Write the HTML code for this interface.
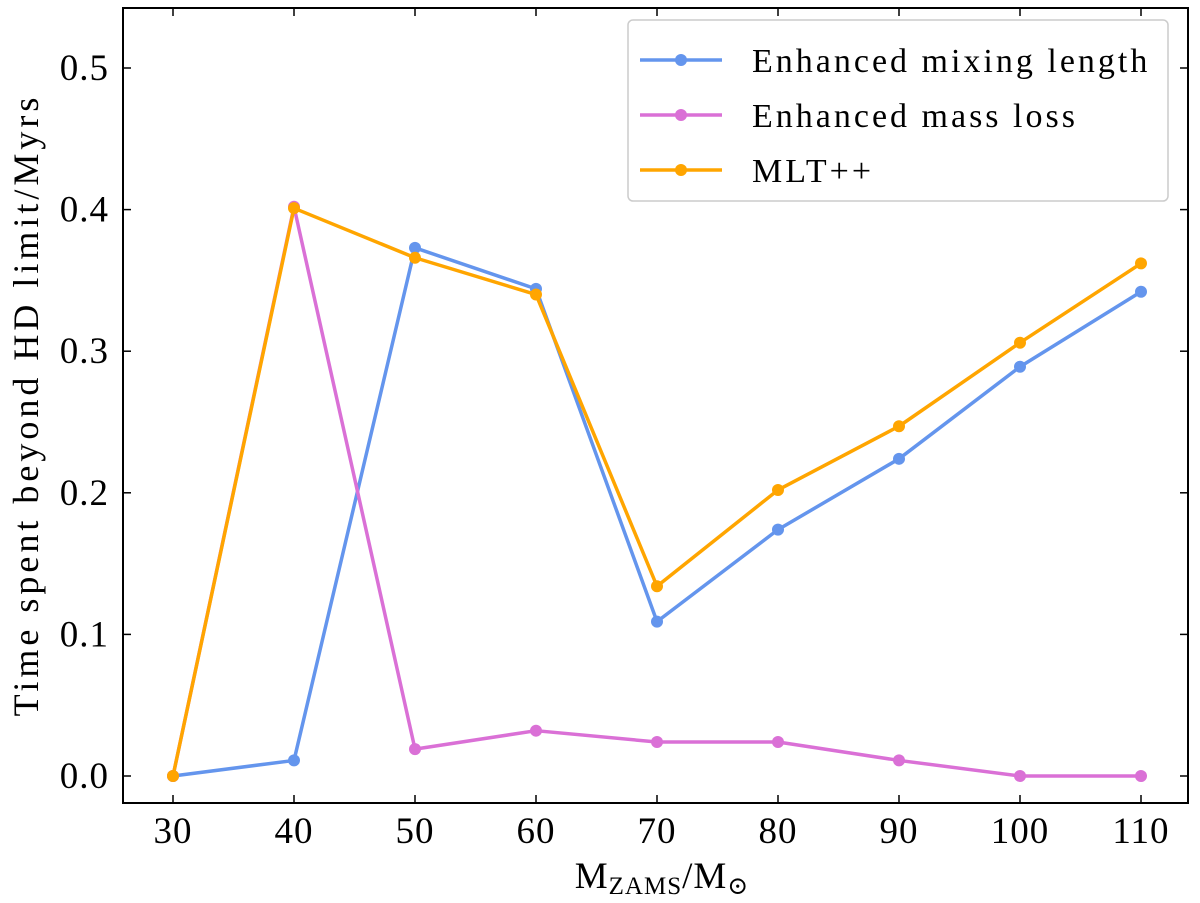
<!DOCTYPE html>
<html><head><meta charset="utf-8">
<style>
html,body{margin:0;padding:0;background:#fff;}
svg{display:block;font-family:"Liberation Serif","DejaVu Serif",serif;}
</style></head>
<body>
<svg id="chart" width="1200" height="903" viewBox="0 0 1200 903" xmlns="http://www.w3.org/2000/svg">
</svg>
<script>
const masses = [30,40,50,60,70,80,90,100,110];
const mixingLength = [0,0.011,0.373,0.344,0.109,0.174,0.224,0.289,0.342];
const massLoss = [0,0.402,0.019,0.032,0.024,0.024,0.011,0,0];
const mltpp = [0,0.401,0.366,0.340,0.134,0.202,0.247,0.306,0.362];
const xTicks = [30,40,50,60,70,80,90,100,110];
const yTicks = [0.0,0.1,0.2,0.3,0.4,0.5];
const seriesNames = ["Enhanced mixing length","Enhanced mass loss","MLT++"];

const NS="http://www.w3.org/2000/svg";
const svg=document.getElementById('chart');
const L=123,R=1188,T=8,B=803;
function xs(v){return 173+(v-30)*12.1;}
function ys(v){return 776-v*1416;}
function mk(tag,attrs,parent){const e=document.createElementNS(NS,tag);for(const k in attrs)e.setAttribute(k,attrs[k]);(parent||svg).appendChild(e);return e;}

const frame=mk('rect',{x:L,y:T,width:R-L,height:B-T,fill:'none',stroke:'#000','stroke-width':2});



xTicks.forEach(v=>{
  const x=xs(v);
  mk('line',{x1:x,y1:B,x2:x,y2:B-8,stroke:'#000','stroke-width':1.5});
  mk('line',{x1:x,y1:T,x2:x,y2:T+8,stroke:'#000','stroke-width':1.5});
  const t=mk('text',{x:x,y:B+40,'text-anchor':'middle','font-size':37,'letter-spacing':1});
  t.textContent=v;
  
  
});
yTicks.forEach(v=>{
  const y=ys(v);
  mk('line',{x1:L,y1:y,x2:L+8,y2:y,stroke:'#000','stroke-width':1.5});
  mk('line',{x1:R,y1:y,x2:R-8,y2:y,stroke:'#000','stroke-width':1.5});
  const t=mk('text',{x:L-14,y:y+12,'text-anchor':'end','font-size':37,'letter-spacing':1});
  t.textContent=v.toFixed(1);
  
  
});

const xt=mk('text',{x:662,y:888,'text-anchor':'middle','font-size':37,'letter-spacing':1});
xt.innerHTML='M<tspan font-size="25" dy="6">ZAMS</tspan><tspan dy="-6">/M</tspan><tspan font-size="25" dy="6">⊙</tspan>';


const yt=mk('text',{x:0,y:0,'text-anchor':'middle','font-size':36,'letter-spacing':4,transform:'translate(38,405) rotate(-90)'});
yt.textContent='Time spent beyond HD limit/Myrs';



const series=[[mixingLength,'#6495ED','mixing-length'],[massLoss,'#DA70D6','mass-loss'],[mltpp,'#FFA500','mlt-plus-plus']];
series.forEach(([vals,col,nm])=>{
  const g=mk('g',{});
  
  
  const pts=vals.map((v,i)=>xs(masses[i])+','+ys(v)).join(' ');
  mk('polyline',{points:pts,fill:'none',stroke:col,'stroke-width':3.5,'stroke-linejoin':'round'},g);
  vals.forEach((v,i)=>{
    const c=mk('circle',{cx:xs(masses[i]),cy:ys(v),r:6,fill:col},g);
    
    
  });
});

const lg=mk('g',{});


mk('rect',{x:628,y:20,width:540,height:181,rx:5,fill:'#fff','fill-opacity':0.85,stroke:'#ccc','stroke-width':1.5},lg);
series.forEach(([vals,col,nm],i)=>{
  const y=60+i*55;
  const e=mk('g',{},lg);
  
  
  mk('line',{x1:640,y1:y,x2:722,y2:y,stroke:col,'stroke-width':3.5},e);
  mk('circle',{cx:681,cy:y,r:6,fill:col},e);
  const t=mk('text',{x:752,y:y+12,'font-size':34,'letter-spacing':3},e);
  t.textContent=seriesNames[i];
});
</script>
</body></html>
